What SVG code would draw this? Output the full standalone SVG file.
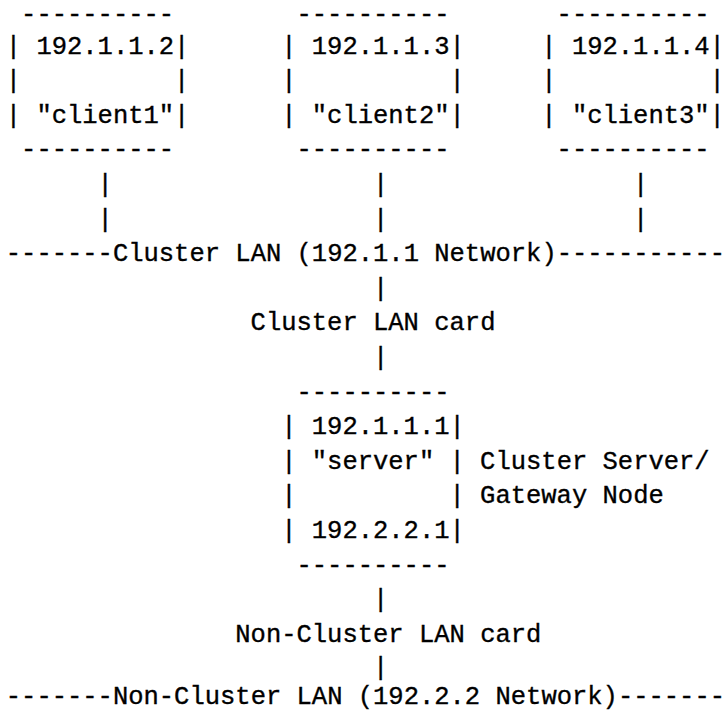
<svg xmlns="http://www.w3.org/2000/svg" width="725" height="712" viewBox="0 0 725 712">
<style>
text{font-family:"Liberation Mono","Courier New",monospace;font-size:25.5px;fill:#000;stroke:#000;stroke-width:0.35}
</style>
<rect width="725" height="712" fill="#fff"/>
<g id="client1">
<text x="21.1" y="21.5">----------</text>
<text x="5.8" y="53.5">| 192.1.1.2|</text>
<text x="5.8" y="88.1">|</text><text x="174.1" y="88.1">|</text>
<text x="5.8" y="122.7">| "client1"|</text>
<text x="21.1" y="157.3">----------</text>
</g>
<g id="client2">
<text x="296.5" y="21.5">----------</text>
<text x="281.2" y="53.5">| 192.1.1.3|</text>
<text x="281.2" y="88.1">|</text><text x="449.5" y="88.1">|</text>
<text x="281.2" y="122.7">| "client2"|</text>
<text x="296.5" y="157.3">----------</text>
</g>
<g id="client3">
<text x="556.6" y="21.5">----------</text>
<text x="541.3" y="53.5">| 192.1.1.4|</text>
<text x="541.3" y="88.1">|</text><text x="709.6" y="88.1">|</text>
<text x="541.3" y="122.7">| "client3"|</text>
<text x="556.6" y="157.3">----------</text>
</g>
<g id="connectors">
<text x="97.6" y="191.9">|</text><text x="373" y="191.9">|</text><text x="633.1" y="191.9">|</text>
<text x="97.6" y="226.5">|</text><text x="373" y="226.5">|</text><text x="633.1" y="226.5">|</text>
<text id="cluster-lan" x="5.8" y="261.1">-------Cluster LAN (192.1.1 Network)-----------</text>
<text x="373" y="295.7">|</text>
<text x="250.6" y="330.3">Cluster LAN card</text>
<text x="373" y="364.9">|</text>
<text x="373" y="607.1">|</text>
<text x="235.3" y="641.7">Non-Cluster LAN card</text>
<text x="373" y="675.3">|</text>
<text id="noncluster-lan" x="5.8" y="704">-------Non-Cluster LAN (192.2.2 Network)-------</text>
</g>
<g id="server">
<text x="296.5" y="399.5">----------</text>
<text x="281.2" y="434.1">| 192.1.1.1|</text>
<text x="281.2" y="468.7">| "server" | Cluster Server/</text>
<text x="281.2" y="503.3">|</text><text x="449.5" y="503.3">| Gateway Node</text>
<text x="281.2" y="537.9">| 192.2.2.1|</text>
<text x="296.5" y="572.5">----------</text>
</g>
</svg>
